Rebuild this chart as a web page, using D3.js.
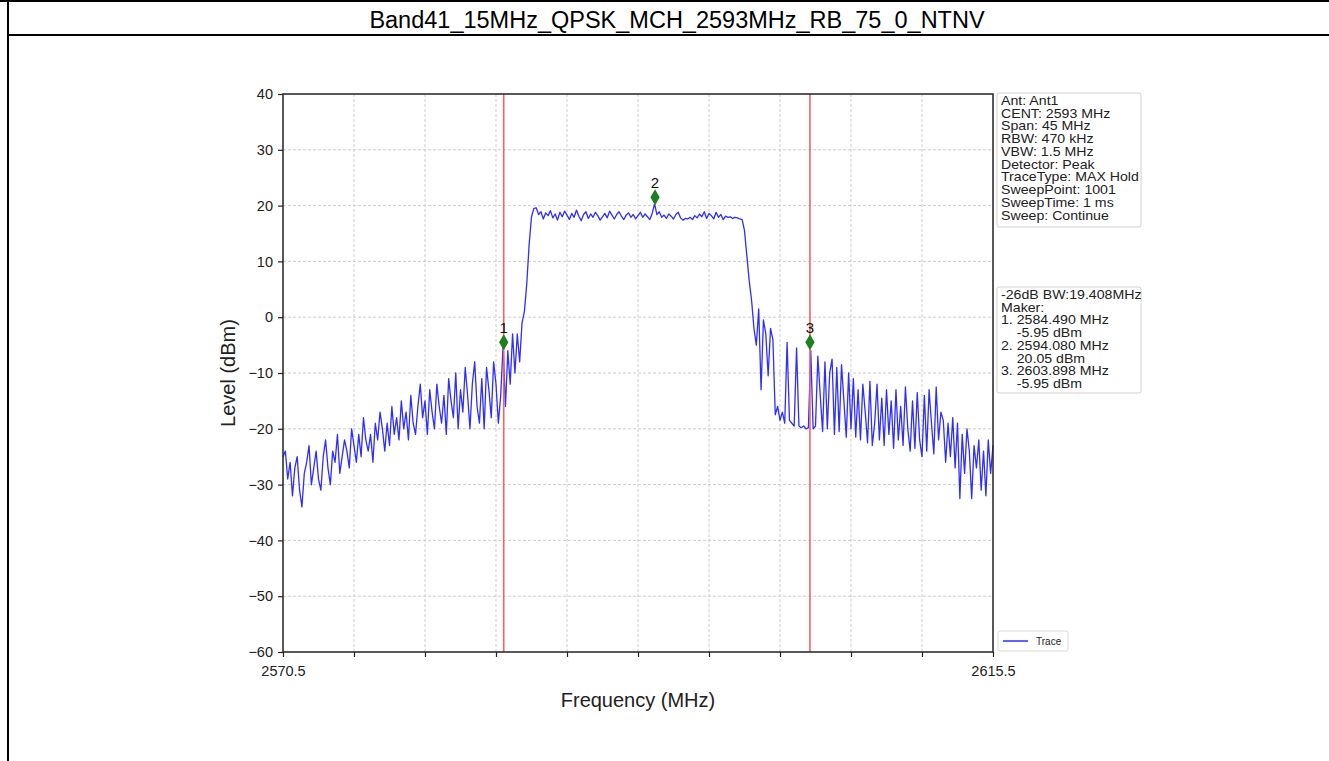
<!DOCTYPE html>
<html>
<head>
<meta charset="utf-8">
<script src="https://cdn.jsdelivr.net/npm/d3@7"></script>
<style>
  body { margin: 0; background: #fff; }
  svg { display: block; font-family: "Liberation Sans", Arial, sans-serif; }
</style>
</head>
<body>
<svg id="chart" width="1329" height="761"></svg>
<script>
var pageWidth = 1329;
var pageHeight = 761;

/********
 * Data *
 ********/

var title = "Band41_15MHz_QPSK_MCH_2593MHz_RB_75_0_NTNV";

// sweep grid (MHz): start, step between stored samples
var sweepStart = 2570.5;
var sweepStep = 0.15;

// trace levels (dBm)
var leftSkirt = [
  -25, -24, -29, -26, -32, -27, -25, -31, -34, -28,
  -26, -23, -30, -27, -24, -29, -31, -25, -22, -27,
  -30, -24, -26, -21, -28, -25, -22, -24, -27, -20,
  -23, -26, -21, -25, -18, -22, -24, -21, -26, -19,
  -22, -17, -20, -24, -19, -23, -16, -21, -18, -22,
  -15, -20, -17, -22, -14, -19, -21, -16, -12, -18,
  -15, -21, -13, -17, -20, -12, -16, -19, -14, -21,
  -11, -15, -18, -10, -20, -13, -17, -9, -14, -20,
  -12, -8, -16, -19, -11, -20, -9, -13, -18, -8,
  -12, -19, -14
];
var risingEdge = [
  -5, -16, -6, -12, -3, -10, -3, -8, -1, 1,
  6, 13, 18, 19.5
];
var channelTop = [
  19.6, 18.4, 18.9, 17.6, 18.7, 18.2, 19.1, 17.8, 18.5, 17.4,
  18.8, 18.0, 19.0, 18.3, 17.5, 18.6, 17.9, 19.2, 18.1, 17.3,
  18.4, 18.9, 17.7, 18.5, 17.9, 18.8, 18.2, 17.4, 18.0, 18.6,
  17.8, 19.0, 18.3, 17.6, 18.4, 18.9, 18.1, 17.5, 18.3, 18.7,
  17.9, 18.4, 17.6, 18.2, 18.8, 17.9, 18.5, 18.0, 17.5, 18.6,
  20.3, 18.4, 18.9, 17.9, 18.3, 17.7, 18.5, 18.1, 17.6, 18.4,
  18.8, 17.8, 17.4, 17.7, 17.6, 17.9, 17.5, 18.2, 17.8, 18.5,
  18.0, 18.9, 17.7, 18.6, 18.2, 17.6, 18.8, 17.9, 18.4, 17.5,
  18.1, 17.9, 18.0, 17.7, 17.9, 17.8, 17.6, 17.5
];
var rightSkirt = [
  15.5, 11, 6.5, 3, -2, -5, 1.5, -13, -0.5, -3,
  -10.5, -2, -4, -17.5, -16, -18.5, -17, -19, -4.5, -18.5,
  -19, -19.5, -5.5, -19.5, -19.8, -19.5, -20, -19.8, -6, -20,
  -19.5, -7, -14, -20.5, -8, -20, -10, -7.5, -21, -9,
  -20.5, -8.5, -15, -21.5, -10, -20, -11, -21.5, -13, -22,
  -12, -17, -22.5, -11.5, -23, -19, -12, -22, -14.5, -23,
  -13, -21, -15, -23.5, -13, -22, -16, -23, -12.5, -20,
  -24, -15, -23.5, -13.5, -22, -25, -14, -24, -13, -19,
  -24.5, -12.5, -22, -17, -18.5, -26, -19, -25, -18, -27,
  -19, -32.5, -21, -28, -20, -24, -32.5, -23, -27, -22,
  -31, -24, -32, -22, -28, -23
];
var traceLevels = leftSkirt.concat(risingEdge, channelTop, rightSkirt);

// markers
var markerNames = ["1", "2", "3"];
var markerFreqs = [2584.490, 2594.080, 2603.898];
var markerLevels = [-4.5, 21.5, -4.5];
// red lines at the -26 dB bandwidth edges
var bwEdges = [2584.490, 2603.898];

// axes
var yTicks = [-60, -50, -40, -30, -20, -10, 0, 10, 20, 30, 40];
var xTicks = [2570.5, 2575, 2579.5, 2584, 2588.5, 2593, 2597.5, 2602, 2606.5, 2611, 2615.5];
var xTickLabels = ["2570.5", "", "", "", "", "", "", "", "", "", "2615.5"];

var infoLines = [
  "Ant: Ant1", "CENT: 2593 MHz", "Span: 45 MHz", "RBW: 470 kHz", "VBW: 1.5 MHz",
  "Detector: Peak", "TraceType: MAX Hold", "SweepPoint: 1001", "SweepTime: 1 ms",
  "Sweep: Continue"
];
var markerLines = [
  "-26dB BW:19.408MHz", "Maker:", "1. 2584.490 MHz", "    -5.95 dBm",
  "2. 2594.080 MHz", "    20.05 dBm", "3. 2603.898 MHz", "    -5.95 dBm"
];

var trace = traceLevels.map(function(v, i) {
  return { f: sweepStart + i * sweepStep, level: v };
});

/**********
 * Layout *
 **********/

var plotLeft = 283, plotRight = 993, plotTop = 94, plotBottom = 652;

var svg = d3.select("#chart");

// page frame and title row
svg.append("line").attr("x1", 0).attr("x2", pageWidth).attr("y1", 1).attr("y2", 1)
    .attr("stroke", "#000").attr("stroke-width", 2);
svg.append("line").attr("x1", 8).attr("x2", 8).attr("y1", 0).attr("y2", pageHeight)
    .attr("stroke", "#000").attr("stroke-width", 2);
svg.append("line").attr("x1", 8).attr("x2", pageWidth).attr("y1", 35).attr("y2", 35)
    .attr("stroke", "#000").attr("stroke-width", 2);

svg.append("text")
    .attr("x", 677)
    .attr("y", 28)
    .attr("text-anchor", "middle")
    .attr("font-size", "23.5px")
    .attr("fill", "#000")
    .text(title);

/**********
 * Scales *
 **********/

var x = d3.scaleLinear().domain([2570.5, 2615.5]).range([plotLeft, plotRight]);
var y = d3.scaleLinear().domain([-60, 40]).range([plotBottom, plotTop]);

/********
 * Grid *
 ********/

var grid = svg.append("g");
grid.selectAll(".hgrid")
    .data(yTicks.slice(1, -1))
    .enter().append("line")
    .attr("x1", plotLeft).attr("x2", plotRight)
    .attr("y1", function(d) { return y(d); })
    .attr("y2", function(d) { return y(d); })
    .attr("stroke", "#cdcdcd")
    .attr("stroke-dasharray", "3,2")
    .attr("stroke-width", 1);

grid.selectAll(".vgrid")
    .data(xTicks.slice(1, -1))
    .enter().append("line")
    .attr("y1", plotTop).attr("y2", plotBottom)
    .attr("x1", function(d) { return x(d); })
    .attr("x2", function(d) { return x(d); })
    .attr("stroke", "#cdcdcd")
    .attr("stroke-dasharray", "3,2")
    .attr("stroke-width", 1);

/*********
 * Trace *
 *********/

var line = d3.line()
    .x(function(d) { return x(d.f); })
    .y(function(d) { return y(d.level); });

svg.append("path")
    .datum(trace)
    .attr("fill", "none")
    .attr("stroke", "#2e2eff")
    .attr("stroke-width", 1.3)
    .attr("stroke-linejoin", "round")
    .attr("d", line);

// bandwidth edge lines
svg.selectAll(".bw")
    .data(bwEdges)
    .enter().append("line")
    .attr("x1", function(d) { return x(d); })
    .attr("x2", function(d) { return x(d); })
    .attr("y1", plotTop).attr("y2", plotBottom)
    .attr("stroke", "#f46464")
    .attr("stroke-width", 1.6);

// markers
var markers = svg.selectAll(".marker")
    .data(markerFreqs)
    .enter().append("g")
    .attr("transform", function(d, i) { return "translate(" + x(d) + "," + y(markerLevels[i]) + ")"; });

markers.append("path")
    .attr("d", d3.symbol().type(d3.symbolDiamond).size(75))
    .attr("fill", "#1f7f1f");

markers.append("text")
    .attr("y", -9)
    .attr("text-anchor", "middle")
    .attr("font-size", "15px")
    .attr("fill", "#111")
    .text(function(d, i) { return markerNames[i]; });

/********
 * Axes *
 ********/

var yAxis = d3.axisLeft(y).tickValues(yTicks).tickSize(5).tickPadding(5)
    .tickFormat(d3.format("d"));
var xAxis = d3.axisBottom(x).tickValues(xTicks).tickSize(5).tickPadding(9)
    .tickFormat(function(d, i) { return xTickLabels[i]; });

var yAxisGroup = svg.append("g")
    .attr("transform", "translate(" + plotLeft + ",0)")
    .call(yAxis);
var xAxisGroup = svg.append("g")
    .attr("transform", "translate(0," + plotBottom + ")")
    .call(xAxis);

[yAxisGroup, xAxisGroup].forEach(function(g) {
  g.select(".domain").remove();
  g.selectAll("line").attr("stroke", "#222").attr("stroke-width", 1.2);
  g.selectAll("text")
      .attr("font-family", "'Liberation Sans', Arial, sans-serif")
      .attr("font-size", "14.5px")
      .attr("fill", "#222");
});

// frame
svg.append("rect")
    .attr("x", plotLeft).attr("y", plotTop)
    .attr("width", plotRight - plotLeft).attr("height", plotBottom - plotTop)
    .attr("fill", "none")
    .attr("stroke", "#222")
    .attr("stroke-width", 1.5);

svg.append("text")
    .attr("x", (plotLeft + plotRight) / 2)
    .attr("y", 707)
    .attr("text-anchor", "middle")
    .attr("font-size", "20px")
    .attr("fill", "#222")
    .text("Frequency (MHz)");

svg.append("text")
    .attr("transform", "translate(235," + (plotTop + plotBottom) / 2 + ") rotate(-90)")
    .attr("text-anchor", "middle")
    .attr("font-size", "20px")
    .attr("fill", "#222")
    .text("Level (dBm)");

/*************
 * Info text *
 *************/

function textBox(lines, bx, by, bw, bh, firstBase) {
  svg.append("rect")
      .attr("x", bx).attr("y", by).attr("width", bw).attr("height", bh)
      .attr("rx", 2)
      .attr("fill", "#fff")
      .attr("stroke", "#d0d0d0");
  // text in the reference is a little wider than tall
  svg.append("g")
      .attr("transform", "translate(" + (bx + 4) + ",0) scale(1.09,1)")
      .selectAll("text")
      .data(lines)
      .enter().append("text")
      .attr("x", 0)
      .attr("y", function(d, i) { return firstBase + i * 12.75; })
      .attr("font-size", "13px")
      .attr("fill", "#222")
      .attr("xml:space", "preserve")
      .style("white-space", "pre")
      .text(function(d) { return d; });
}

textBox(infoLines, 997, 93, 144, 134, 105);
textBox(markerLines, 997, 287, 144, 106, 299);

// legend
svg.append("rect")
    .attr("x", 998).attr("y", 631).attr("width", 70).attr("height", 20)
    .attr("rx", 2)
    .attr("fill", "#fff")
    .attr("stroke", "#dadada");
svg.append("line")
    .attr("x1", 1003).attr("x2", 1028).attr("y1", 641).attr("y2", 641)
    .attr("stroke", "#2e2eff").attr("stroke-width", 1.5);
svg.append("text")
    .attr("x", 1036).attr("y", 645)
    .attr("font-size", "10px")
    .attr("fill", "#222")
    .text("Trace");
</script>
</body>
</html>
